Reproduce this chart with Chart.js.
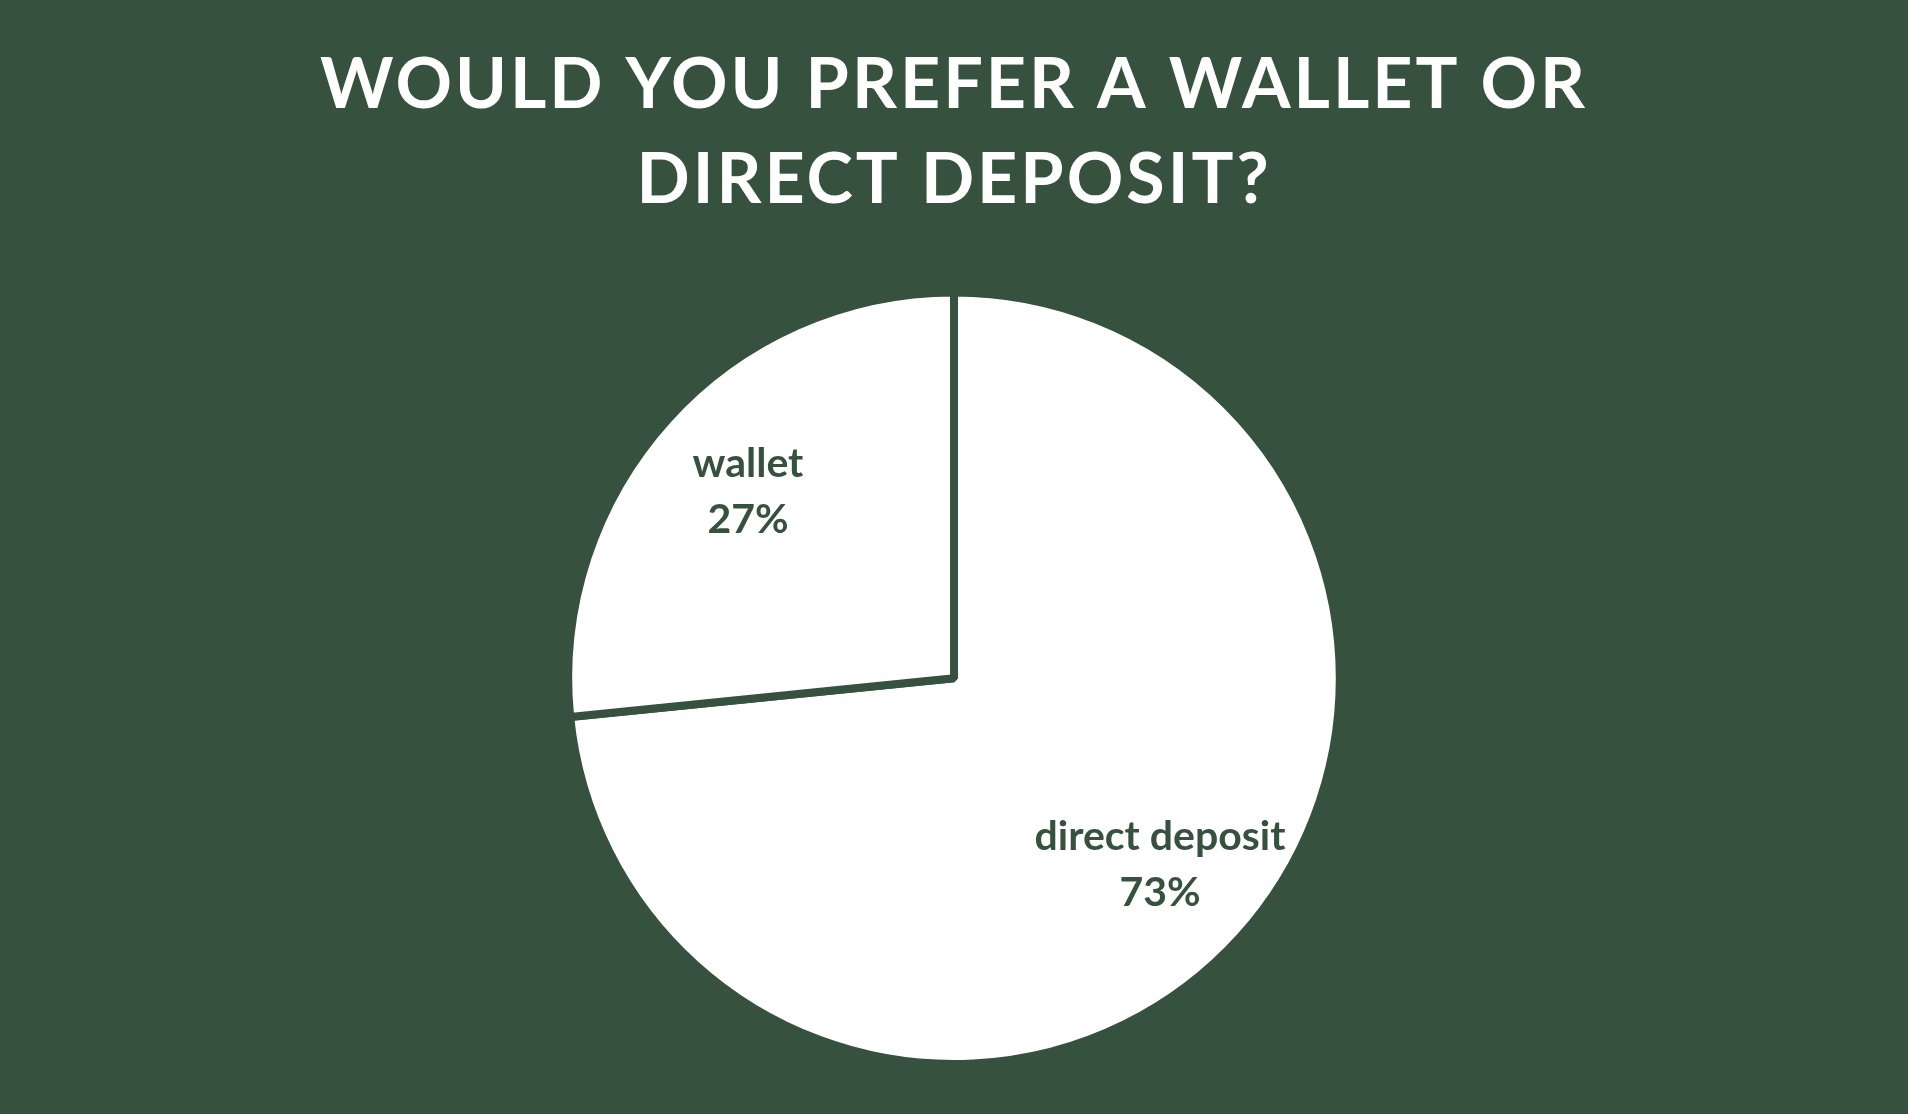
<!DOCTYPE html>
<html>
<head>
<meta charset="utf-8">
<script src="https://cdn.jsdelivr.net/npm/chart.js@4.4.1/dist/chart.umd.min.js"></script>
<style>
  html, body { margin: 0; padding: 0; background: #36513d; }
  #wrap { width: 1908px; height: 1114px; }
</style>
</head>
<body>
<div id="wrap"><canvas id="pieChart" width="1908" height="1114"></canvas></div>
<script>
const titleLines = ['WOULD YOU PREFER A WALLET OR', 'DIRECT DEPOSIT?'];
const labels = ['direct deposit', 'wallet'];
// slice sizes; the labels show them rounded
const shares = [73.4, 26.6];

const bgGreen = '#36513d';

// paints the green background and the in-slice labels
const pieDecor = {
    id: 'pieDecor',
    beforeDraw(chart) {
        const ctx = chart.ctx;
        ctx.save();
        ctx.fillStyle = bgGreen;
        ctx.fillRect(0, 0, chart.width, chart.height);
        ctx.restore();
        // wide tracking for the title (drawn before the datasets)
        ctx.letterSpacing = '3px';
    },
    beforeDatasetsDraw(chart) {
        chart.ctx.letterSpacing = '0px';
    },
    afterDatasetsDraw(chart) {
        const ctx = chart.ctx;
        const arcs = chart.getDatasetMeta(0).data;
        ctx.save();
        ctx.font = 'bold 41px Lato';
        ctx.fillStyle = bgGreen;
        ctx.textAlign = 'center';
        ctx.textBaseline = 'middle';
        arcs.forEach((arc, i) => {
            const p = arc.getProps(['x', 'y', 'startAngle', 'endAngle', 'outerRadius'], true);
            const mid = (p.startAngle + p.endAngle) / 2;
            const r = p.outerRadius * 0.72;
            const cx = p.x + Math.cos(mid) * r;
            const cy = p.y + Math.sin(mid) * r;
            ctx.fillText(labels[i], cx, cy - 28);
            ctx.fillText(Math.round(shares[i]) + '%', cx, cy + 28);
        });
        ctx.restore();
    }
};

new Chart(document.getElementById('pieChart'), {
    type: 'pie',
    data: {
        labels: labels,
        datasets: [{
            data: shares,
            backgroundColor: ['#ffffff', '#ffffff'],
            borderColor: bgGreen,
            borderWidth: 8
        }]
    },
    options: {
        responsive: false,
        animation: false,
        layout: { padding: { top: 0, bottom: 46, left: 0, right: 0 } },
        plugins: {
            legend: { display: false },
            tooltip: { enabled: false },
            title: {
                display: true,
                text: titleLines,
                color: '#ffffff',
                font: { family: 'Lato', size: 70, weight: 'bold', lineHeight: 1.36 },
                padding: { top: 38, bottom: 60 }
            }
        }
    },
    plugins: [pieDecor]
});
</script>
</body>
</html>
